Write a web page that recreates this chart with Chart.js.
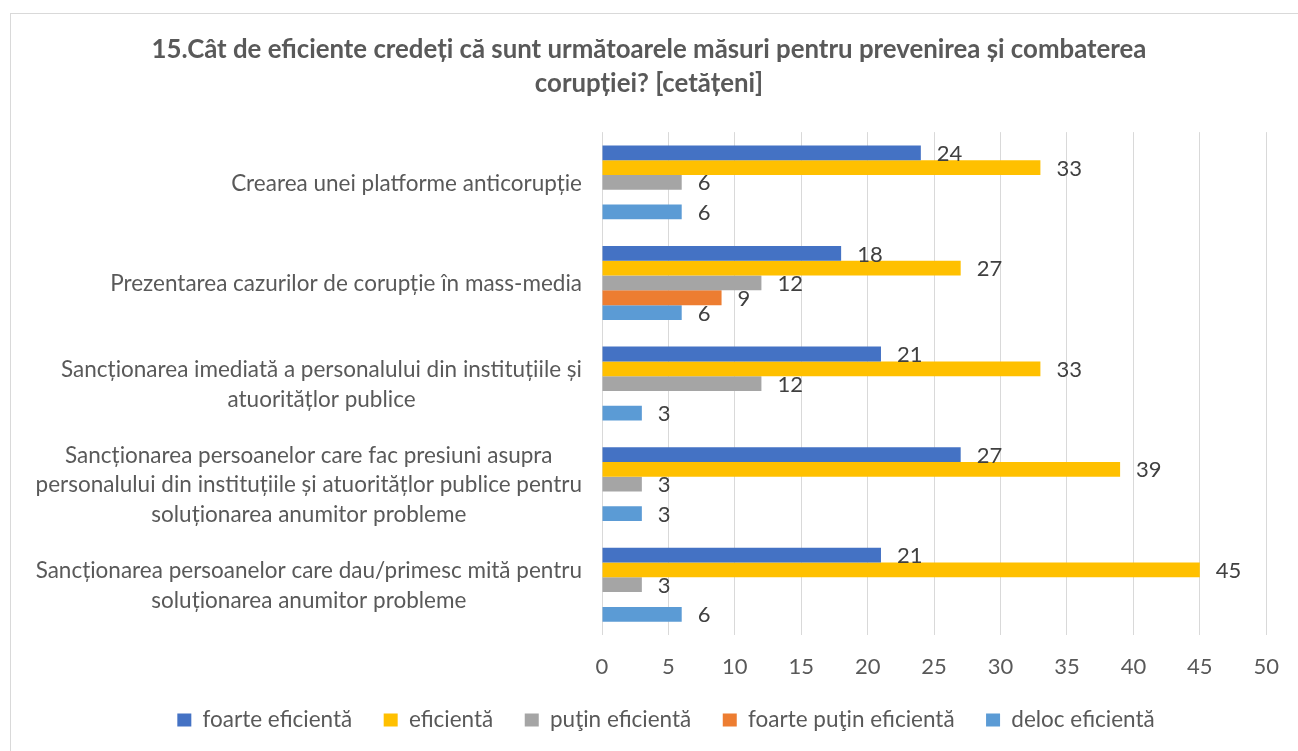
<!DOCTYPE html>
<html>
<head>
<meta charset="utf-8">
<script src="https://cdn.jsdelivr.net/npm/chart.js@4"></script>
<style>
  html, body { margin: 0; padding: 0; background: #fff; overflow: hidden; }
  #wrap { position: relative; width: 1298px; height: 751px; }
  #frame { position: absolute; left: 10px; top: 13px; width: 1400px; height: 800px;
           border: 1px solid #d9d9d9; pointer-events: none; }
</style>
</head>
<body>
<div id="wrap">
  <canvas id="chartMasuri" width="1298" height="751"></canvas>
  <div id="frame"></div>
</div>
<script>
    // categorii (de sus in jos), fiecare ca lista de randuri
    const categorii = [
        ['Crearea unei platforme anticorupție'],
        ['Prezentarea cazurilor de corupție în mass-media'],
        ['Sancționarea imediată a personalului din instituțiile și', 'atuoritățlor publice'],
        ['Sancționarea persoanelor care fac presiuni asupra', 'personalului din instituțiile și atuoritățlor publice pentru', 'soluționarea anumitor probleme'],
        ['Sancționarea persoanelor care dau/primesc mită pentru', 'soluționarea anumitor probleme']
    ];

    const foarteEficienta = [24, 18, 21, 27, 21];
    const eficienta = [33, 27, 33, 39, 45];
    const putinEficienta = [6, 12, 12, 3, 3];
    const foartePutinEficienta = [0, 9, 0, 0, 0];
    const delocEficienta = [6, 6, 3, 3, 6];

    const axaTicks = [0, 5, 10, 15, 20, 25, 30, 35, 40, 45, 50];

    const FONT = 'Lato, Calibri, sans-serif';
    const GRI = '#595959';

    // etichete cu valori la capatul barelor
    const valoriPlugin = {
        id: 'valori',
        afterDatasetsDraw(chart) {
            const ctx = chart.ctx;
            ctx.save();
            ctx.font = '22px ' + FONT;
            ctx.fillStyle = '#404040';
            ctx.textAlign = 'left';
            ctx.textBaseline = 'middle';
            chart.data.datasets.forEach((ds, i) => {
                const meta = chart.getDatasetMeta(i);
                meta.data.forEach((bar, j) => {
                    const v = ds.data[j];
                    if (!v) return;
                    ctx.fillText(String(v), bar.x + 16, bar.y + 1);
                });
            });
            ctx.restore();
        }
    };

    // etichetele categoriilor: bloc aliniat la dreapta, randuri centrate
    const categoriiPlugin = {
        id: 'categorii',
        afterDraw(chart) {
            const ctx = chart.ctx;
            const yScale = chart.scales.y;
            const dreapta = chart.chartArea.left - 20;
            const lh = 29.5;
            ctx.save();
            ctx.font = '22.5px ' + FONT;
            ctx.fillStyle = GRI;
            ctx.textAlign = 'center';
            ctx.textBaseline = 'middle';
            categorii.forEach((randuri, i) => {
                const w = Math.max(...randuri.map(r => ctx.measureText(r).width));
                const cx = dreapta - w / 2;
                const cy = yScale.getPixelForTick(i) + 1;
                const start = cy - (randuri.length - 1) * lh / 2;
                randuri.forEach((r, k) => ctx.fillText(r, cx, start + k * lh));
            });
            ctx.restore();
        }
    };

    // legenda e putin decalata spre dreapta in original
    const legendaPlugin = {
        id: 'legendaDecalata',
        afterLayout(chart) {
            chart.legend.left += 17;
            chart.legend.right += 17;
        }
    };

    new Chart(document.getElementById('chartMasuri'), {
        type: 'bar',
        data: {
            labels: categorii,
            datasets: [
                { label: 'foarte eficientă', data: foarteEficienta, backgroundColor: '#4472c4' },
                { label: 'eficientă', data: eficienta, backgroundColor: '#ffc000' },
                { label: 'puţin eficientă', data: putinEficienta, backgroundColor: '#a5a5a5' },
                { label: 'foarte puţin eficientă', data: foartePutinEficienta, backgroundColor: '#ed7d31' },
                { label: 'deloc eficientă', data: delocEficienta, backgroundColor: '#5b9bd5' }
            ]
        },
        options: {
            indexAxis: 'y',
            responsive: false,
            animation: false,
            devicePixelRatio: 1,
            datasets: {
                bar: { categoryPercentage: 0.735, barPercentage: 1, borderWidth: 0 }
            },
            layout: { padding: { left: 29, right: 29, top: 0, bottom: 9.75 } },
            scales: {
                x: {
                    min: 0,
                    max: 50,
                    afterBuildTicks: s => { s.ticks = axaTicks.map(v => ({ value: v })); },
                    afterFit: s => { s.height = 42.25; },
                    grid: { color: '#d9d9d9', lineWidth: 1, drawTicks: false },
                    border: { display: false },
                    ticks: { font: { family: FONT, size: 22 }, color: GRI, padding: 19 }
                },
                y: {
                    grid: { display: false },
                    border: { display: false },
                    ticks: { display: false },
                    afterFit: s => { s.width = 573; }
                }
            },
            plugins: {
                title: {
                    display: true,
                    text: ['15.Cât de eficiente credeți că sunt următoarele măsuri pentru prevenirea și combaterea', 'corupției? [cetățeni]'],
                    color: GRI,
                    font: { family: FONT, size: 25.8, weight: 'bold', lineHeight: 1.32 },
                    padding: { top: 33, bottom: 31 }
                },
                legend: {
                    position: 'bottom',
                    labels: {
                        boxWidth: 14,
                        boxHeight: 13,
                        padding: 31.5,
                        color: GRI,
                        font: { family: FONT, size: 22.5 }
                    }
                },
                tooltip: { enabled: false }
            }
        },
        plugins: [valoriPlugin, categoriiPlugin, legendaPlugin]
    });
</script>
</body>
</html>
